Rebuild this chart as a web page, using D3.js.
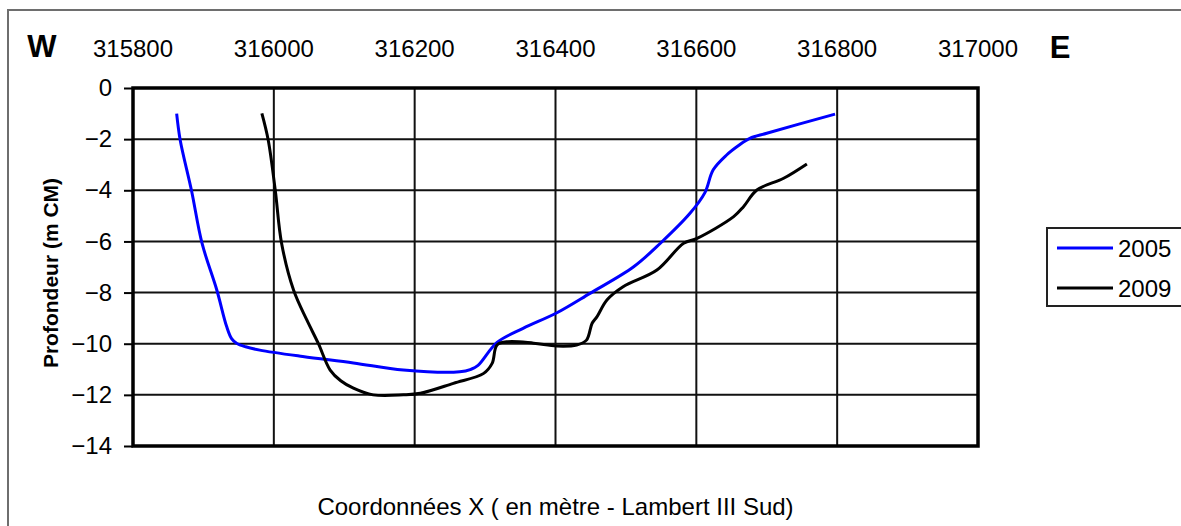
<!DOCTYPE html>
<html>
<head>
<meta charset="utf-8">
<script src="https://cdn.jsdelivr.net/npm/d3@7/dist/d3.min.js"></script>
<style>
  html, body { margin: 0; padding: 0; background: #fff; }
  svg { display: block; }
  text { font-family: "Liberation Sans", Arial, sans-serif; fill: #000; }
</style>
</head>
<body>
<svg id="chart" width="1181" height="526"></svg>
<script>
// Profil bathymétrique : X Lambert III Sud (m) / profondeur (m CM)
const x2005 = [315862, 315867, 315883, 315898, 315919, 315933, 315940, 315947, 315960, 315980, 316041, 316113, 316184, 316264, 316280, 316290, 316317, 316354, 316402, 316449, 316511, 316549, 316591, 316612, 316624, 316643, 316660, 316676, 316700, 316797];
const z2005 = [-1.0, -2.03, -4.0, -6.07, -7.9, -9.33, -9.8, -9.98, -10.12, -10.25, -10.5, -10.75, -11.03, -11.1, -11.0, -10.85, -9.95, -9.4, -8.79, -8.03, -6.99, -6.07, -4.9, -4.1, -3.2, -2.62, -2.25, -1.97, -1.77, -1.02];

const x2009 = [315983, 315992, 316002, 316011, 316028, 316047, 316063, 316080, 316095, 316113, 316141, 316184, 316208, 316255, 316298, 316310, 316317, 316333, 316369, 316402, 316430, 316444, 316452, 316459, 316473, 316496, 316544, 316582, 316601, 316653, 316667, 316686, 316724, 316757];
const z2009 = [-0.99, -2.03, -3.99, -6.07, -7.9, -9.08, -9.98, -11.03, -11.45, -11.74, -12.0, -12.0, -11.94, -11.55, -11.16, -10.77, -10.05, -9.92, -9.98, -10.09, -10.05, -9.86, -9.2, -8.94, -8.29, -7.77, -7.12, -6.07, -5.88, -5.03, -4.64, -3.99, -3.53, -2.97];

const seriesNames = ["2005", "2009"];
const seriesColors = ["#0000ff", "#000000"];
const xTicks = [315800, 316000, 316200, 316400, 316600, 316800, 317000];
const yTicks = [0, -2, -4, -6, -8, -10, -12, -14];
const yTitle = "Profondeur (m CM)";
const xTitle = "Coordonnées X ( en mètre - Lambert III Sud)";

const svg = d3.select("#chart");
const plot = { left: 133, right: 978, top: 88, bottom: 446 };

const x = d3.scaleLinear().domain([315800, 317000]).range([plot.left, plot.right]);
const y = d3.scaleLinear().domain([0, -14]).range([plot.top, plot.bottom]);

// outer chart frame
svg.append("rect")
  .attr("x", 8).attr("y", 10)
  .attr("width", 1200).attr("height", 600)
  .attr("fill", "none").attr("stroke", "#6e6e6e").attr("stroke-width", 2);

// horizontal grid
svg.append("g")
  .selectAll("line").data(yTicks.slice(1, -1)).join("line")
  .attr("x1", plot.left).attr("x2", plot.right)
  .attr("y1", d => y(d)).attr("y2", d => y(d))
  .attr("stroke", "#111").attr("stroke-width", 2);

// vertical grid
svg.append("g")
  .selectAll("line").data(xTicks.slice(1, -1)).join("line")
  .attr("y1", plot.top).attr("y2", plot.bottom)
  .attr("x1", d => x(d)).attr("x2", d => x(d))
  .attr("stroke", "#111").attr("stroke-width", 2);

// left axis
const yAxis = d3.axisLeft(y).tickValues(yTicks).tickSize(9).tickPadding(12).tickFormat(d3.format("d"));
const gy = svg.append("g").attr("transform", `translate(${plot.left},0)`).call(yAxis);
gy.select(".domain").remove();
gy.selectAll(".tick line").attr("stroke", "#000").attr("stroke-width", 2);
gy.selectAll(".tick text").attr("font-size", 24).attr("font-family", "Liberation Sans, Arial, sans-serif").attr("fill", "#000");

// plot frame
svg.append("rect")
  .attr("x", plot.left).attr("y", plot.top)
  .attr("width", plot.right - plot.left).attr("height", plot.bottom - plot.top)
  .attr("fill", "none").attr("stroke", "#000").attr("stroke-width", 3.5);

// series
const line = d3.line().x(d => x(d[0])).y(d => y(d[1])).curve(d3.curveCatmullRom.alpha(0.5));
const series = [
  d3.zip(x2005, z2005),
  d3.zip(x2009, z2009)
];
svg.append("g").selectAll("path").data(series).join("path")
  .attr("d", line)
  .attr("fill", "none")
  .attr("stroke", (d, i) => seriesColors[i])
  .attr("stroke-width", 3)
  .attr("stroke-linejoin", "round");

// top coordinate labels
svg.append("g").selectAll("text").data(xTicks).join("text")
  .attr("x", d => x(d)).attr("y", 57)
  .attr("text-anchor", "middle").attr("font-size", 24)
  .text(d => d);

svg.append("text").attr("x", 42).attr("y", 57).attr("text-anchor", "middle")
  .attr("font-size", 31).attr("font-weight", "bold").text("W");
svg.append("text").attr("x", 1060).attr("y", 58).attr("text-anchor", "middle")
  .attr("font-size", 31).attr("font-weight", "bold").text("E");

// axis titles
svg.append("text")
  .attr("transform", `translate(58,${(plot.top + plot.bottom) / 2 + 6}) rotate(-90)`)
  .attr("text-anchor", "middle").attr("font-size", 21).attr("font-weight", "bold")
  .text(yTitle);
svg.append("text")
  .attr("x", (plot.left + plot.right) / 2).attr("y", 515)
  .attr("text-anchor", "middle").attr("font-size", 24)
  .text(xTitle);

// legend
const lg = svg.append("g").attr("transform", "translate(1047,228)");
lg.append("rect").attr("x", 0).attr("y", 0).attr("width", 160).attr("height", 78)
  .attr("fill", "#fff").attr("stroke", "#222").attr("stroke-width", 2);
seriesNames.forEach((name, i) => {
  const yy = 20 + i * 40;
  lg.append("line").attr("x1", 10).attr("x2", 66).attr("y1", yy).attr("y2", yy)
    .attr("stroke", seriesColors[i]).attr("stroke-width", 3);
  lg.append("text").attr("x", 71).attr("y", yy + 9).attr("font-size", 24).text(name);
});
</script>
</body>
</html>
